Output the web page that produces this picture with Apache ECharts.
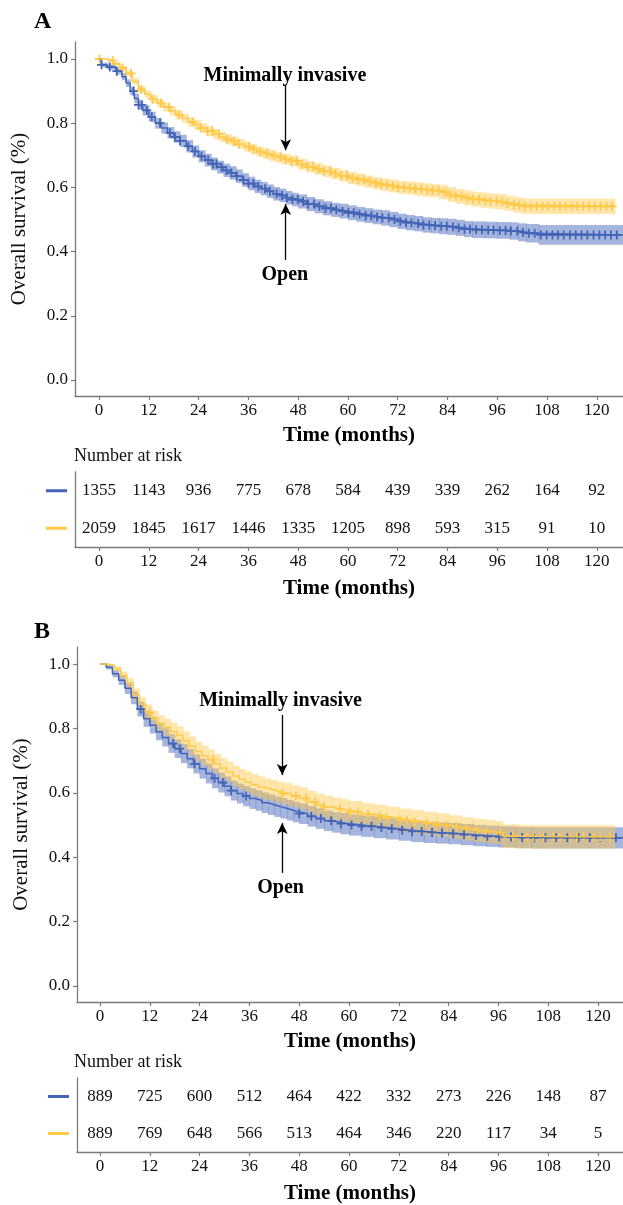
<!DOCTYPE html>
<html>
<head>
<meta charset="utf-8">
<script src="https://cdn.jsdelivr.net/npm/echarts@6.0.0/dist/echarts.min.js"></script>
<style>
  html, body { margin: 0; padding: 0; background: #fff; }
  #chart { width: 623px; height: 1205px; }
</style>
</head>
<body>
<div id="chart"></div>
<script>
// tick labels
const months = [0, 12, 24, 36, 48, 60, 72, 84, 96, 108, 120]
const survivalTicks = [0, 0.2, 0.4, 0.6, 0.8, 1.0]

// number at risk
const riskOpenA = [1355, 1143, 936, 775, 678, 584, 439, 339, 262, 164, 92]
const riskMiA = [2059, 1845, 1617, 1446, 1335, 1205, 898, 593, 315, 91, 10]
const riskOpenB = [889, 725, 600, 512, 464, 422, 332, 273, 226, 148, 87]
const riskMiB = [889, 769, 648, 566, 513, 464, 346, 220, 117, 34, 5]

// KM curves: [month, survival, lower CI, upper CI] (last row = end of follow-up)
const openA = [
  [0, 1.000, 1.000, 1.000], [0.5, 0.982, 0.975, 0.989], [2, 0.975, 0.967, 0.983], [4, 0.962, 0.952, 0.972],
  [5.5, 0.945, 0.934, 0.956], [6.5, 0.925, 0.913, 0.937], [7.5, 0.900, 0.887, 0.913], [8.5, 0.877, 0.862, 0.892],
  [9.5, 0.857, 0.842, 0.872], [10.5, 0.840, 0.824, 0.856], [12, 0.820, 0.804, 0.836], [13.5, 0.800, 0.783, 0.817], [15, 0.785, 0.768, 0.802],
  [16.5, 0.770, 0.752, 0.788], [18, 0.757, 0.739, 0.775], [19.5, 0.745, 0.726, 0.764], [21, 0.728, 0.709, 0.747],
  [22.5, 0.712, 0.693, 0.731], [24, 0.697, 0.678, 0.716], [25.5, 0.685, 0.665, 0.705], [27, 0.673, 0.653, 0.693],
  [28.5, 0.663, 0.643, 0.683], [30, 0.653, 0.632, 0.674], [31.5, 0.645, 0.624, 0.666], [33, 0.635, 0.614, 0.656],
  [34.5, 0.623, 0.602, 0.644], [36, 0.612, 0.591, 0.633], [37.5, 0.603, 0.582, 0.624], [39, 0.596, 0.575, 0.617],
  [40.5, 0.588, 0.567, 0.609], [42, 0.580, 0.559, 0.601], [43.5, 0.575, 0.554, 0.596], [45, 0.568, 0.547, 0.589],
  [46.5, 0.562, 0.541, 0.583], [48, 0.556, 0.534, 0.578], [50, 0.548, 0.526, 0.570], [52, 0.541, 0.519, 0.563],
  [54, 0.535, 0.513, 0.557], [56, 0.530, 0.508, 0.552], [58, 0.526, 0.503, 0.549], [60, 0.521, 0.498, 0.544],
  [62, 0.516, 0.493, 0.539], [64, 0.512, 0.489, 0.535], [66, 0.508, 0.485, 0.531], [68, 0.505, 0.481, 0.529],
  [70, 0.500, 0.476, 0.524], [72, 0.494, 0.470, 0.518], [74, 0.490, 0.466, 0.514], [76, 0.487, 0.463, 0.511],
  [78, 0.483, 0.459, 0.507], [80, 0.481, 0.457, 0.505], [82, 0.479, 0.454, 0.504], [84, 0.477, 0.452, 0.502],
  [86, 0.474, 0.449, 0.499], [88, 0.470, 0.445, 0.495], [90, 0.468, 0.442, 0.494], [93, 0.467, 0.441, 0.493],
  [96, 0.466, 0.440, 0.492], [99, 0.464, 0.437, 0.491], [101, 0.460, 0.432, 0.488], [103, 0.457, 0.428, 0.486],
  [106, 0.452, 0.421, 0.483], [126.3, 0.452, 0.421, 0.483]
]
const miA = [
  [0, 1.000, 1.000, 1.000], [2, 0.995, 0.991, 0.999], [3.5, 0.985, 0.979, 0.991], [5, 0.972, 0.965, 0.979],
  [6.5, 0.955, 0.946, 0.964], [8, 0.930, 0.920, 0.940], [9.5, 0.905, 0.894, 0.916], [11, 0.890, 0.878, 0.902],
  [12.5, 0.875, 0.862, 0.888], [14, 0.862, 0.849, 0.875], [15.5, 0.850, 0.836, 0.864], [17, 0.838, 0.824, 0.852],
  [18.5, 0.826, 0.812, 0.840], [20, 0.815, 0.800, 0.830], [21.5, 0.804, 0.789, 0.819], [23, 0.795, 0.780, 0.810],
  [24.5, 0.785, 0.770, 0.800], [26, 0.775, 0.759, 0.791], [27.5, 0.766, 0.750, 0.782], [29, 0.757, 0.741, 0.773],
  [30.5, 0.750, 0.734, 0.766], [32, 0.743, 0.727, 0.759], [33.5, 0.735, 0.719, 0.751], [35, 0.727, 0.711, 0.743],
  [36.5, 0.719, 0.703, 0.735], [38, 0.711, 0.695, 0.727], [39.5, 0.705, 0.688, 0.722], [41, 0.699, 0.682, 0.716],
  [42.5, 0.694, 0.677, 0.711], [44, 0.688, 0.671, 0.705], [46, 0.682, 0.665, 0.699], [48, 0.672, 0.655, 0.689],
  [50, 0.664, 0.646, 0.682], [52, 0.657, 0.639, 0.675], [54, 0.650, 0.632, 0.668], [56, 0.643, 0.625, 0.661],
  [58, 0.636, 0.618, 0.654], [60, 0.629, 0.610, 0.648], [62, 0.624, 0.605, 0.643], [64, 0.618, 0.599, 0.637],
  [66, 0.613, 0.594, 0.632], [68, 0.608, 0.588, 0.628], [70, 0.604, 0.584, 0.624], [72, 0.600, 0.580, 0.620],
  [74, 0.598, 0.578, 0.618], [76, 0.595, 0.574, 0.616], [78, 0.592, 0.571, 0.613], [80, 0.590, 0.569, 0.611],
  [82, 0.585, 0.563, 0.607], [84, 0.578, 0.555, 0.601], [86, 0.572, 0.549, 0.595], [88, 0.567, 0.544, 0.590],
  [90, 0.563, 0.540, 0.586], [92, 0.560, 0.536, 0.584], [94, 0.557, 0.533, 0.581], [96, 0.555, 0.531, 0.579],
  [98, 0.550, 0.526, 0.574], [100, 0.545, 0.521, 0.569], [102, 0.541, 0.517, 0.565], [124.3, 0.541, 0.517, 0.565]
]
const openB = [
  [0, 1.000, 1.000, 1.000], [1.5, 0.990, 0.983, 0.997], [3, 0.970, 0.959, 0.981], [4.5, 0.950, 0.935, 0.965],
  [6, 0.925, 0.907, 0.943], [7.5, 0.895, 0.875, 0.915], [9, 0.860, 0.837, 0.883], [10.5, 0.830, 0.805, 0.855],
  [12, 0.810, 0.784, 0.836], [13.5, 0.790, 0.763, 0.817], [15, 0.772, 0.744, 0.800], [16.5, 0.753, 0.724, 0.782],
  [18, 0.737, 0.708, 0.766], [19.5, 0.722, 0.692, 0.752], [21, 0.706, 0.676, 0.736], [22.5, 0.690, 0.660, 0.720],
  [24, 0.675, 0.644, 0.706], [25.5, 0.660, 0.629, 0.691], [27, 0.645, 0.614, 0.676], [28.5, 0.632, 0.601, 0.663],
  [30, 0.620, 0.589, 0.651], [31.5, 0.607, 0.576, 0.638], [33, 0.598, 0.567, 0.629], [34.5, 0.590, 0.558, 0.622],
  [36, 0.582, 0.550, 0.614], [37.5, 0.576, 0.544, 0.608], [39, 0.569, 0.537, 0.601], [40.5, 0.563, 0.531, 0.595],
  [42, 0.557, 0.525, 0.589], [43.5, 0.552, 0.520, 0.584], [45, 0.546, 0.514, 0.578], [46.5, 0.540, 0.508, 0.572],
  [48, 0.535, 0.503, 0.567], [50, 0.527, 0.495, 0.559], [52, 0.520, 0.488, 0.552], [54, 0.513, 0.481, 0.545],
  [56, 0.508, 0.476, 0.540], [58, 0.504, 0.471, 0.537], [60, 0.500, 0.467, 0.533], [63, 0.496, 0.463, 0.529],
  [66, 0.492, 0.459, 0.525], [69, 0.488, 0.455, 0.521], [72, 0.484, 0.451, 0.517], [75, 0.480, 0.447, 0.513],
  [78, 0.477, 0.444, 0.510], [81, 0.475, 0.442, 0.508], [84, 0.473, 0.440, 0.506], [87, 0.470, 0.437, 0.503],
  [90, 0.467, 0.434, 0.500], [93, 0.465, 0.432, 0.498], [96, 0.463, 0.430, 0.496], [100, 0.461, 0.428, 0.494],
  [104, 0.460, 0.427, 0.493], [126, 0.460, 0.427, 0.493]
]
const miB = [
  [0, 1.000, 1.000, 1.000], [2, 0.995, 0.990, 1.000], [3.5, 0.985, 0.977, 0.993], [5, 0.965, 0.953, 0.977],
  [6.5, 0.940, 0.924, 0.956], [8, 0.905, 0.886, 0.924], [9.5, 0.875, 0.853, 0.897], [11, 0.850, 0.826, 0.874],
  [12.5, 0.830, 0.805, 0.855], [14, 0.815, 0.789, 0.841], [15.5, 0.803, 0.776, 0.830], [17, 0.790, 0.762, 0.818],
  [18.5, 0.778, 0.750, 0.806], [20, 0.762, 0.733, 0.791], [21.5, 0.745, 0.715, 0.775], [23, 0.728, 0.698, 0.758],
  [24.5, 0.715, 0.684, 0.746], [26, 0.703, 0.672, 0.734], [27.5, 0.690, 0.659, 0.721], [29, 0.677, 0.645, 0.709],
  [30.5, 0.665, 0.633, 0.697], [32, 0.652, 0.620, 0.684], [33.5, 0.642, 0.610, 0.674], [35, 0.633, 0.600, 0.666],
  [36.5, 0.625, 0.592, 0.658], [38, 0.618, 0.585, 0.651], [39.5, 0.612, 0.579, 0.645], [41, 0.607, 0.574, 0.640],
  [42.5, 0.602, 0.569, 0.635], [44, 0.597, 0.563, 0.631], [46, 0.590, 0.556, 0.624], [48, 0.583, 0.549, 0.617],
  [50, 0.572, 0.538, 0.606], [52, 0.563, 0.528, 0.598], [54, 0.556, 0.521, 0.591], [56, 0.550, 0.515, 0.585],
  [58, 0.545, 0.510, 0.580], [60, 0.540, 0.505, 0.575], [63, 0.533, 0.498, 0.568], [66, 0.527, 0.491, 0.563],
  [69, 0.521, 0.485, 0.557], [72, 0.515, 0.479, 0.551], [75, 0.510, 0.474, 0.546], [78, 0.505, 0.469, 0.541],
  [81, 0.500, 0.464, 0.536], [84, 0.494, 0.458, 0.530], [87, 0.488, 0.452, 0.524], [90, 0.483, 0.447, 0.519],
  [93, 0.479, 0.443, 0.515], [95, 0.476, 0.440, 0.512], [97, 0.465, 0.428, 0.502], [101, 0.463, 0.426, 0.500],
  [124, 0.463, 0.426, 0.500]
]

// censoring times (months)
const censorOpenA = [0.6, 2.6, 4.3, 8.3, 9.5, 10.3, 11.5, 12.7, 14.7, 17.1, 18.3, 19.5, 21.5, 23.1, 24.7, 26.3, 27.5, 28.3,
  29.5, 30.7, 31.9, 33.2, 34.8, 36, 37.2, 38.4, 40, 41.2, 42.8, 44.1, 45.3, 46.6, 47.9, 49.2, 50.4, 51.8, 53.1, 54.6,
  55.9, 57.2, 58.7, 60.1, 61.4, 62.8, 64.3, 65.6, 67, 68.3, 69.8, 71.2, 72.6, 74, 75.3, 76.9, 78.2, 79.6, 81, 82.5,
  83.8, 85.3, 86.7, 88.1, 89.4, 90.9, 92.3, 93.8, 95.1, 96.6, 98, 99.3, 100.8, 102.2, 103.6, 105, 106.5, 107.9,
  109.3, 110.6, 112, 113.5, 114.9, 116.3, 117.7, 119.2, 120.6, 122, 123.4, 124.8]
const censorMiA = [0.1, 3.3, 5.7, 7.7, 10.1, 12.9, 14.9, 16.9, 19.3, 22.5, 24.5, 26.1, 27.3, 28.9, 30.9, 32.5, 33.7, 36.1,
  37.3, 38.9, 40.5, 42.1, 43.7, 45, 46.4, 47.6, 48.9, 50.3, 51.6, 52.9, 54.2, 55.7, 57, 58.4, 59.8, 61.1, 62.5, 63.8,
  65.2, 66.7, 68, 69.4, 70.8, 72.1, 73.5, 74.9, 76.3, 77.6, 79.1, 80.4, 81.8, 83.3, 84.6, 86, 87.4, 88.8, 90.2, 91.6,
  93, 94.4, 95.8, 97.2, 98.5, 100, 101.3, 102.7, 104.1, 105.5, 106.9, 108.3, 109.7, 111.1, 112.5, 113.9, 115.3,
  116.7, 118.1, 119.5, 120.9, 122.3, 123.7]
const censorOpenB = [9.8, 17.6, 19.2, 22.8, 27.6, 29.6, 31.6, 35.2, 48, 50.9, 53.2, 55.7, 58.1, 60.6, 63, 65.4, 67.8,
  70.3, 72.8, 75.2, 77.5, 80, 82.4, 85.1, 87.7, 90.6, 93.3, 96.2, 99, 101.7, 104.6, 107.3, 109.9, 112.6, 115.3, 118,
  120.5, 124.3]
const censorMiB = [12, 27.2, 44, 47.2, 49.6, 51.8, 54, 57.8, 60.2, 62.2, 64.6, 67.5, 69.1, 72.3, 73.9, 75.9, 78.7, 81.1,
  83.5, 85.9, 88.3, 90.7, 93.1, 96.4, 99.6, 102.8, 104.4, 106.8, 109.2, 110.8, 113.3, 114.9, 116.5, 118.9, 120.5, 122.9]

const FONT = 'Liberation Serif'
const AXIS_COLOR = '#7a7a7a'
const TEXT_COLOR = '#111'
const BLUE = '#4464b6'
const YELLOW = '#ffc94a'
const BLUE_BAND = 'rgba(66, 98, 184, 0.47)'
const YELLOW_BAND = 'rgba(255, 200, 70, 0.45)'
const PLUS = 'path://M0,4H10V6H0Z M4,0H6V10H4Z'

function stepAt(curve, t) {
  let s = curve[0][1]
  for (const row of curve) {
    if (row[0] <= t) s = row[1]
  }
  return s
}

function xAxisFor(grid, min, max, nameGap) {
  return {
    type: 'value', gridIndex: grid, min: min, max: max,
    name: 'Time (months)', nameLocation: 'middle', nameGap: nameGap,
    nameTextStyle: { fontFamily: FONT, fontWeight: 'bold', fontSize: 21, color: '#000' },
    axisLine: { show: true, onZero: false, lineStyle: { color: AXIS_COLOR, width: 1.3 } },
    axisTick: { show: true, length: 4, lineStyle: { color: AXIS_COLOR, width: 1.2 }, customValues: months },
    axisLabel: { customValues: months, margin: 6, fontFamily: FONT, fontSize: 17, color: TEXT_COLOR },
    splitLine: { show: false }
  }
}

function survivalAxis(grid) {
  return {
    type: 'value', gridIndex: grid, min: -0.05, max: 1.053,
    name: 'Overall survival (%)', nameLocation: 'middle', nameGap: 45,
    nameTextStyle: { fontFamily: FONT, fontSize: 21, color: TEXT_COLOR },
    axisLine: { show: true, onZero: false, lineStyle: { color: AXIS_COLOR, width: 1.3 } },
    axisTick: { show: true, length: 4, lineStyle: { color: AXIS_COLOR, width: 1.2 }, customValues: survivalTicks },
    axisLabel: { customValues: survivalTicks, margin: 7, fontFamily: FONT, fontSize: 17, color: TEXT_COLOR,
      formatter: v => v.toFixed(1) },
    splitLine: { show: false }
  }
}

function riskAxis(grid) {
  return {
    type: 'category', gridIndex: grid, data: ['mi', 'open'],
    axisLine: { show: true, onZero: false, lineStyle: { color: AXIS_COLOR, width: 1.3 } },
    axisTick: { show: false },
    axisLabel: {
      margin: 8,
      formatter: v => (v === 'open' ? '{o|}' : '{m|}'),
      rich: {
        o: { width: 21, height: 3, backgroundColor: BLUE },
        m: { width: 21, height: 3, backgroundColor: YELLOW }
      }
    }
  }
}

function bandSeries(curve, grid, color) {
  return {
    type: 'custom', xAxisIndex: grid, yAxisIndex: grid, silent: true, clip: true,
    data: curve,
    renderItem(params, api) {
      const i = params.dataIndex
      if (i >= curve.length - 1) return null
      const p1 = api.coord([curve[i][0], curve[i][3]])
      const p2 = api.coord([curve[i + 1][0], curve[i][2]])
      return {
        type: 'rect',
        shape: { x: p1[0], y: p1[1], width: p2[0] - p1[0] + 0.6, height: p2[1] - p1[1] },
        style: { fill: color }
      }
    }
  }
}

function lineSeries(curve, grid, color) {
  return {
    type: 'line', xAxisIndex: grid, yAxisIndex: grid, step: 'end', showSymbol: false, silent: true,
    data: curve.map(r => [r[0], r[1]]),
    lineStyle: { color: color, width: 1.5 }
  }
}

function censorSeries(curve, times, grid, color) {
  return {
    type: 'scatter', xAxisIndex: grid, yAxisIndex: grid, silent: true,
    symbol: PLUS, symbolSize: 9,
    itemStyle: { color: color, opacity: 1 },
    data: times.map(t => [t, stepAt(curve, t)])
  }
}

function riskSeries(counts, row, grid) {
  return {
    type: 'scatter', xAxisIndex: grid, yAxisIndex: grid, silent: true, symbolSize: 0,
    itemStyle: { opacity: 1 },
    data: counts.map((n, i) => [months[i], row, n]),
    label: { show: true, position: 'inside', formatter: p => p.value[2],
      fontFamily: FONT, fontSize: 17, color: TEXT_COLOR }
  }
}

function annotations(grid, t, miText, miArrow, openArrow, openText) {
  const arrowStyle = { color: '#000', width: 1.3, type: 'solid' }
  return {
    type: 'scatter', xAxisIndex: grid, yAxisIndex: grid, silent: true, symbolSize: 0,
    itemStyle: { opacity: 1 },
    data: [
      { value: miText, name: 'Minimally invasive' },
      { value: openText, name: 'Open' }
    ],
    label: { show: true, position: 'inside', formatter: '{b}', textBorderWidth: 0,
      fontFamily: FONT, fontWeight: 'bold', fontSize: 20, color: '#000' },
    markLine: {
      silent: true, symbol: ['none', 'arrow'], symbolSize: [8, 11],
      label: { show: false }, lineStyle: arrowStyle,
      data: [
        [{ coord: [t, miArrow[0]] }, { coord: [t, miArrow[1]] }],
        [{ coord: [t, openArrow[0]] }, { coord: [t, openArrow[1]] }]
      ]
    }
  }
}

const chart = echarts.init(document.getElementById('chart'), null, { renderer: 'canvas' })

chart.setOption({
  animation: false,
  backgroundColor: '#fff',
  textStyle: { fontFamily: FONT },
  grid: [
    { left: 75, right: 0, top: 42, height: 354 },
    { left: 75, right: 0, top: 472, height: 75 },
    { left: 77, right: 0, top: 647, height: 355 },
    { left: 77, right: 0, top: 1078, height: 75 }
  ],
  xAxis: [
    xAxisFor(0, -5.8, 126.3, 29),
    xAxisFor(1, -5.8, 126.3, 31),
    xAxisFor(2, -5.54, 126.0, 29),
    xAxisFor(3, -5.54, 126.0, 31)
  ],
  yAxis: [survivalAxis(0), riskAxis(1), survivalAxis(2), riskAxis(3)],
  graphic: [
    { type: 'text', left: 34, top: 10, style: { text: 'A', font: 'bold 24px "Liberation Serif"', fill: '#000' } },
    { type: 'text', left: 34, top: 620, style: { text: 'B', font: 'bold 24px "Liberation Serif"', fill: '#000' } },
    { type: 'text', left: 74, top: 447, style: { text: 'Number at risk', font: '18px "Liberation Serif"', fill: TEXT_COLOR } },
    { type: 'text', left: 74, top: 1053, style: { text: 'Number at risk', font: '18px "Liberation Serif"', fill: TEXT_COLOR } }
  ],
  series: [
    // panel A
    bandSeries(openA, 0, BLUE_BAND),
    lineSeries(openA, 0, BLUE),
    censorSeries(openA, censorOpenA, 0, BLUE),
    bandSeries(miA, 0, YELLOW_BAND),
    lineSeries(miA, 0, YELLOW),
    censorSeries(miA, censorMiA, 0, YELLOW),
    annotations(0, 45, [44.8, 0.947], [0.919, 0.716], [0.374, 0.548], [44.8, 0.327]),
    riskSeries(riskOpenA, 1, 1),
    riskSeries(riskMiA, 0, 1),
    // panel B
    bandSeries(openB, 2, BLUE_BAND),
    lineSeries(openB, 2, BLUE),
    censorSeries(openB, censorOpenB, 2, BLUE),
    bandSeries(miB, 2, YELLOW_BAND),
    lineSeries(miB, 2, YELLOW),
    censorSeries(miB, censorMiB, 2, YELLOW),
    annotations(2, 43.9, [43.5, 0.885], [0.842, 0.655], [0.351, 0.506], [43.5, 0.304]),
    riskSeries(riskOpenB, 1, 3),
    riskSeries(riskMiB, 0, 3)
  ]
})
</script>
</body>
</html>
